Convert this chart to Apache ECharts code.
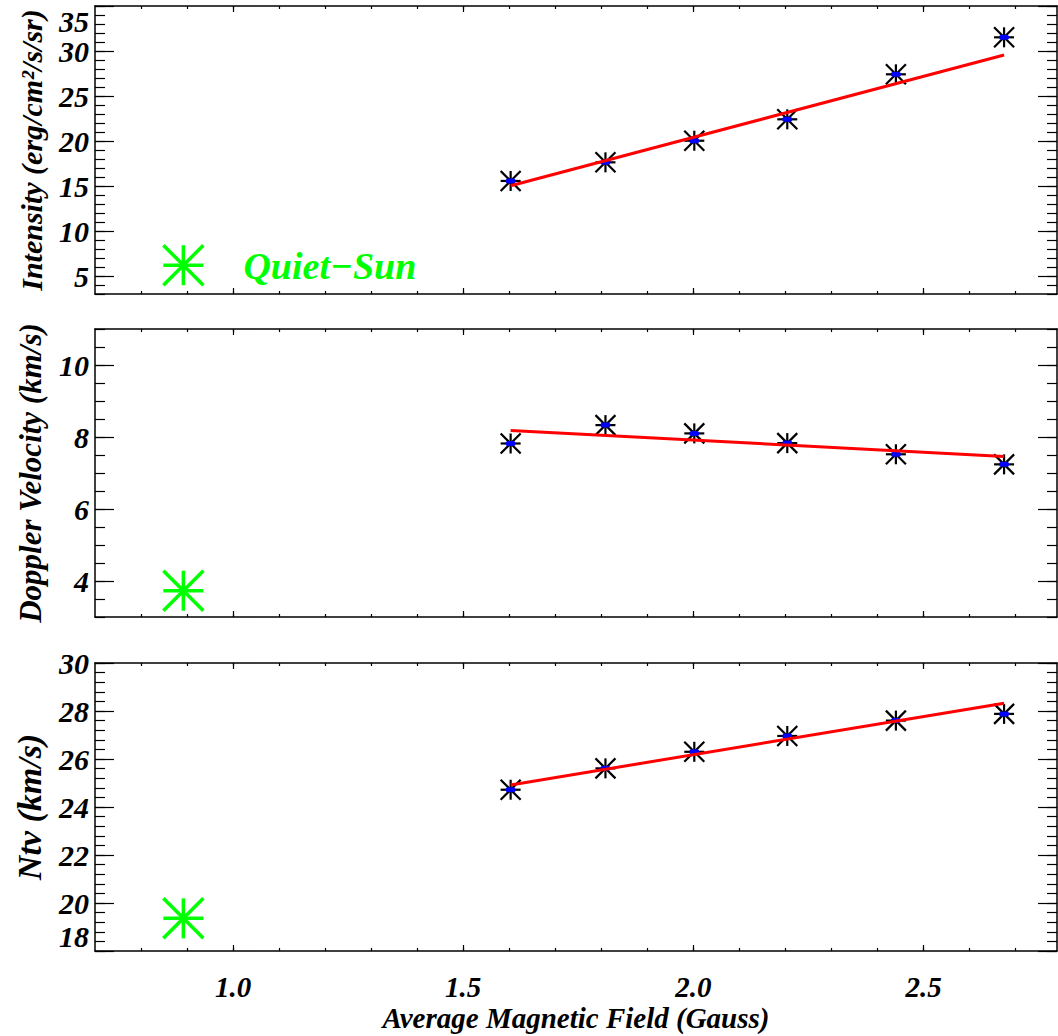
<!DOCTYPE html>
<html>
<head>
<meta charset="utf-8">
<script src="https://cdn.jsdelivr.net/npm/echarts@6/dist/echarts.min.js"></script>
<style>
  html, body { margin: 0; padding: 0; background: #fff; }
  #chart { width: 1058px; height: 1036px; }
</style>
</head>
<body>
<div id="chart"></div>
<script>
// Average magnetic field of each bin (Gauss)
const fieldB = [1.603, 1.809, 2.002, 2.204, 2.440, 2.675];
// Measured quantities per bin
const intensity = [15.56, 17.63, 20.03, 22.41, 27.41, 31.52];
const doppler = [7.82, 8.33, 8.10, 7.83, 7.52, 7.24];
const ntv = [24.72, 25.61, 26.30, 26.96, 27.60, 27.88];
// Linear fit end points
const fitB = [1.603, 2.675];
const intensityFit = [15.03, 29.56];
const dopplerFit = [8.18, 7.46];
const ntvFit = [24.92, 28.32];
// Quiet-Sun reference values: intensity, doppler velocity, ntv
const quietSunB = 0.892;
const quietSun = [6.2, 3.73, 19.36];
const quietSunLabel = 'Quiet\u2212Sun';

// Axis definitions
const xTitle = 'Average Magnetic Field (Gauss)';
const xRange = [0.7, 2.79];
const xMajorTicks = [1.0, 1.5, 2.0, 2.5];
const xMinorStep = 0.1;
const panelTitles = ['Intensity (erg/cm\u00b2/s/sr)', 'Doppler Velocity (km/s)', 'Ntv (km/s)'];
const yRanges = [[3, 35], [3, 11], [18, 30]];
const yMajorTicks = [
  [5, 10, 15, 20, 25, 30, 35],
  [4, 6, 8, 10],
  [18, 20, 22, 24, 26, 28, 30]
];
const yMinorStep = [1, 0.5, 0.4];

const panelValues = [intensity, doppler, ntv];
const panelFits = [intensityFit, dopplerFit, ntvFit];

function steps(a, b, step) {
  const out = [];
  const n = Math.round((b - a) / step);
  for (let i = 0; i <= n; i++) out.push(+(a + i * step).toFixed(4));
  return out;
}

const FONT = '"Liberation Serif", "Times New Roman", serif';
const textStyleBase = { fontFamily: FONT, fontWeight: 'bold', fontStyle: 'italic', color: '#000' };
const titleSizes = [30, 31, 34];

// Three stacked panels sharing one field axis
const gridTops = [6, 329, 663];
const gridHeight = 288;
const grids = gridTops.map(t => ({
  left: 95, right: 1, top: t, height: gridHeight, outerBoundsMode: 'none'
}));

const xAxes = [];
const yAxes = [];

for (let p = 0; p < 3; p++) {
  const xMinor = steps(0.8, 2.7, xMinorStep);
  ['bottom', 'top'].forEach(pos => {
    [true, false].forEach(major => {
      const labelled = major && pos === 'bottom' && p === 2;
      xAxes.push({
        type: 'value', gridIndex: p, position: pos,
        min: xRange[0], max: xRange[1],
        axisLine: { show: major, onZero: false, lineStyle: { color: '#000', width: 1.5 } },
        axisTick: { show: true, inside: true, length: major ? 6 : 3,
          customValues: major ? xMajorTicks : xMinor,
          lineStyle: { color: '#000', width: 1.2 } },
        axisLabel: { show: labelled, customValues: xMajorTicks, margin: 21,
          formatter: v => v.toFixed(1), fontSize: 29, ...textStyleBase },
        splitLine: { show: false },
        name: labelled ? xTitle : '',
        nameLocation: 'middle', nameGap: 52, nameMoveOverlap: false,
        nameTextStyle: { fontSize: 29, ...textStyleBase }
      });
    });
  });

  const yMinor = steps(yRanges[p][0], yRanges[p][1], yMinorStep[p]);
  ['left', 'right'].forEach(pos => {
    [true, false].forEach(major => {
      const labelled = major && pos === 'left';
      const lbl = { show: labelled, customValues: yMajorTicks[p], margin: 6,
        showMinLabel: true, showMaxLabel: true,
        fontSize: 30, ...textStyleBase };
      if (p === 0) lbl.verticalAlignMaxLabel = 'top';
      if (p === 2) lbl.verticalAlignMinLabel = 'bottom';
      yAxes.push({
        type: 'value', gridIndex: p, position: pos,
        min: yRanges[p][0], max: yRanges[p][1],
        axisLine: { show: major, onZero: false, lineStyle: { color: '#000', width: 1.5 } },
        axisTick: { show: true, inside: true, length: major ? 19 : 10,
          customValues: major ? yMajorTicks[p] : yMinor,
          lineStyle: { color: '#000', width: 1.2 } },
        axisLabel: lbl,
        splitLine: { show: false },
        name: labelled ? panelTitles[p] : '',
        nameLocation: 'middle', nameGap: 49, nameRotate: 90, nameMoveOverlap: false,
        nameTextStyle: { fontSize: titleSizes[p], ...textStyleBase }
      });
    });
  });
}

// Asterisk marker: horizontal, vertical and two diagonal strokes
function asterisk(cx, cy, r, lw, color) {
  const segs = [[-r, 0, r, 0], [0, -r, 0, r], [-r, -r, r, r], [-r, r, r, -r]];
  return segs.map(s => ({
    type: 'line',
    shape: { x1: cx + s[0], y1: cy + s[1], x2: cx + s[2], y2: cy + s[3] },
    style: { stroke: color, lineWidth: lw, lineCap: 'butt' }
  }));
}

function binMarker(params, api) {
  const c = api.coord([api.value(0), api.value(1)]);
  const kids = asterisk(c[0], c[1], 10, 2.2, '#000');
  kids.push({ type: 'rect', shape: { x: c[0] - 5, y: c[1] - 2.5, width: 10, height: 5, r: 2.5 },
    style: { fill: '#0000ff' } });
  return { type: 'group', children: kids };
}

function quietMarker(withLabel) {
  return function (params, api) {
    const c = api.coord([api.value(0), api.value(1)]);
    const kids = asterisk(c[0], c[1], 20, 3.5, '#00ff00');
    if (withLabel) {
      kids.push({ type: 'text', x: c[0] + 60, y: c[1] + 1,
        style: { text: quietSunLabel, fill: '#00ff00',
          font: 'italic bold 38px "Liberation Serif", serif',
          textAlign: 'left', textVerticalAlign: 'middle' } });
    }
    return { type: 'group', children: kids };
  };
}

const series = [];
for (let p = 0; p < 3; p++) {
  const xi = p * 4, yi = p * 4;
  series.push({
    type: 'custom', xAxisIndex: xi, yAxisIndex: yi, z: 2,
    renderItem: binMarker,
    data: fieldB.map((b, i) => [b, panelValues[p][i]])
  });
  series.push({
    type: 'line', xAxisIndex: xi, yAxisIndex: yi, z: 3,
    symbol: 'none', silent: true,
    lineStyle: { color: '#ff0000', width: 3 },
    data: fitB.map((b, i) => [b, panelFits[p][i]])
  });
  series.push({
    type: 'custom', xAxisIndex: xi, yAxisIndex: yi, z: 2,
    renderItem: quietMarker(p === 0),
    data: [[quietSunB, quietSun[p]]]
  });
}

const chart = echarts.init(document.getElementById('chart'), null, { renderer: 'svg' });
chart.setOption({
  animation: false,
  backgroundColor: '#fff',
  grid: grids,
  xAxis: xAxes,
  yAxis: yAxes,
  series: series
});
</script>
</body>
</html>
